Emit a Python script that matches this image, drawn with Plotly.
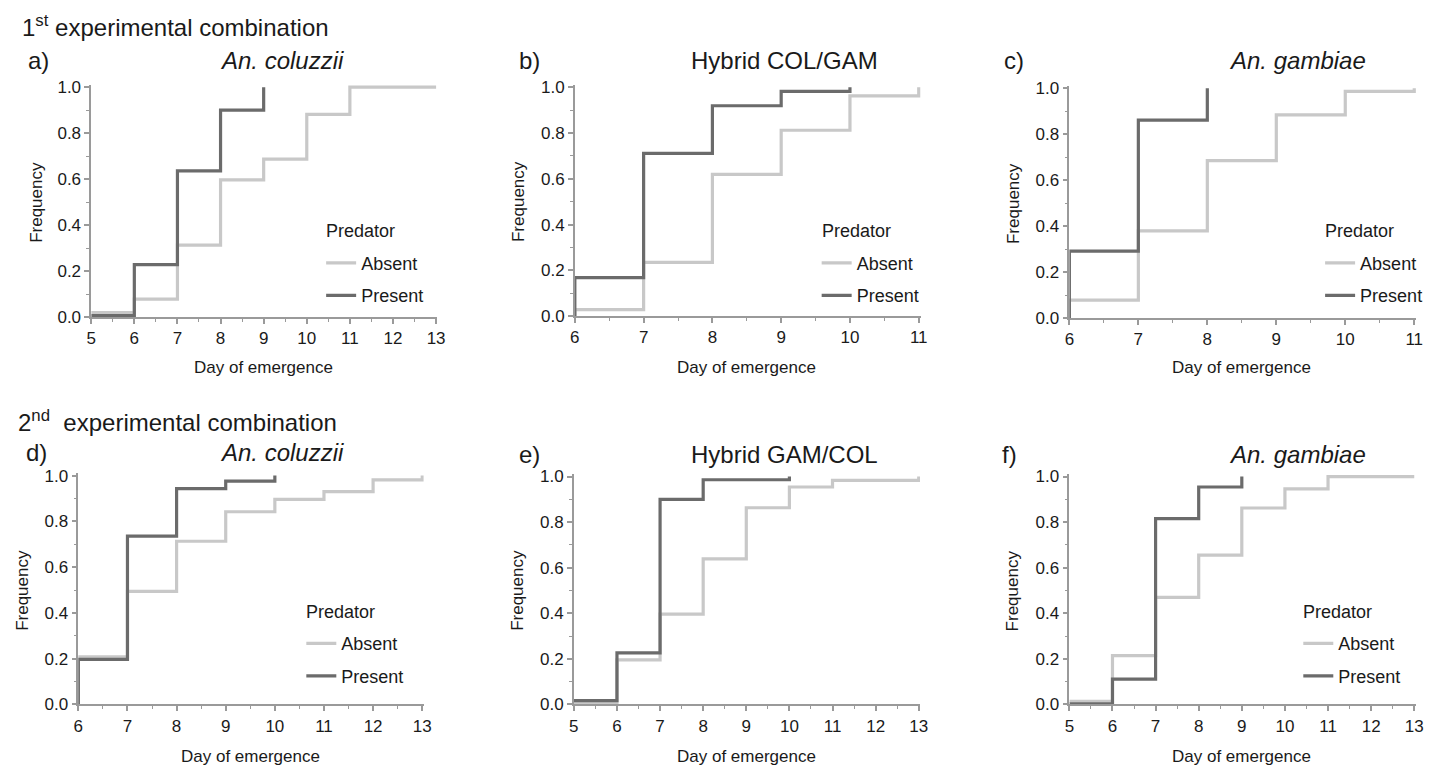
import plotly.graph_objects as go

# ---------------- data (cumulative frequency of emergence) ----------------
# Panel a) 1st combination, An. coluzzii
a_absent_days = [5, 6, 7, 8, 9, 10, 11, 13]
a_absent_freq = [0.02, 0.078, 0.313, 0.597, 0.687, 0.882, 1.0, 1.0]
a_present_days = [5, 6, 7, 8, 9]
a_present_freq = [0.007, 0.228, 0.636, 0.90, 1.0]

# Panel b) 1st combination, Hybrid COL/GAM
b_absent_days = [6, 6, 7, 8, 9, 10, 11]
b_absent_freq = [0.0, 0.028, 0.235, 0.619, 0.812, 0.962, 1.0]
b_present_days = [6, 6, 7, 8, 9, 10]
b_present_freq = [0.0, 0.168, 0.711, 0.919, 0.982, 1.0]

# Panel c) 1st combination, An. gambiae
c_absent_days = [6, 6, 7, 8, 9, 10, 11]
c_absent_freq = [0.0, 0.078, 0.379, 0.685, 0.884, 0.986, 1.0]
c_present_days = [6, 6, 7, 8]
c_present_freq = [0.0, 0.291, 0.861, 1.0]

# Panel d) 2nd combination, An. coluzzii
d_absent_days = [6, 6, 7, 8, 9, 10, 11, 12, 13]
d_absent_freq = [0.0, 0.208, 0.494, 0.713, 0.842, 0.896, 0.930, 0.981, 1.0]
d_present_days = [6, 6, 7, 8, 9, 10]
d_present_freq = [0.0, 0.197, 0.735, 0.943, 0.976, 1.0]

# Panel e) 2nd combination, Hybrid GAM/COL
e_absent_days = [5, 6, 7, 8, 9, 10, 11, 13]
e_absent_freq = [0.007, 0.196, 0.396, 0.639, 0.863, 0.954, 0.983, 1.0]
e_present_days = [5, 6, 7, 8, 10]
e_present_freq = [0.017, 0.226, 0.90, 0.986, 1.0]

# Panel f) 2nd combination, An. gambiae
f_absent_days = [5, 6, 7, 8, 9, 10, 11, 13]
f_absent_freq = [0.014, 0.214, 0.470, 0.655, 0.862, 0.946, 1.0, 1.0]
f_present_days = [5, 6, 7, 8, 9]
f_present_freq = [0.003, 0.111, 0.815, 0.954, 1.0]

series_names = ["Absent", "Present"]
panel_labels = ["a)", "b)", "c)", "d)", "e)", "f)"]
panel_titles = ["<i>An. coluzzii</i>", "Hybrid COL/GAM", "<i>An. gambiae</i>",
                "<i>An. coluzzii</i>", "Hybrid GAM/COL", "<i>An. gambiae</i>"]
row_titles = ["1<sup>st</sup> experimental combination",
              "2<sup>nd</sup>  experimental combination"]
x_title = "Day of emergence"
y_title = "Frequency"
legend_title = "Predator"

data = [
    (a_absent_days, a_absent_freq, a_present_days, a_present_freq),
    (b_absent_days, b_absent_freq, b_present_days, b_present_freq),
    (c_absent_days, c_absent_freq, c_present_days, c_present_freq),
    (d_absent_days, d_absent_freq, d_present_days, d_present_freq),
    (e_absent_days, e_absent_freq, e_present_days, e_present_freq),
    (f_absent_days, f_absent_freq, f_present_days, f_present_freq),
]

# ---------------- layout geometry (pixels) ----------------
W, H = 1450, 780
FONT = "Liberation Sans, Arial, Helvetica, sans-serif"
LIGHT = "#c8c8c8"
DARK = "#6b6b6b"
AXC = "#9a9a9a"
TXT = "#1a1a1a"

# (x_lo, x_hi, px_lo, px_hi, py_top(1.0), py_bottom(0.0), label_x, label_y, title_cx, ytitle_cx, legend(x,y) or None)
geom = [
    (5, 13, 87, 435, 82, 317, 22, 55, 280, 31, (323, 229)),
    (6, 11, 575, 922, 82, 316, 518, 55, 787, 518, (823, 229)),
    (6, 11, 1074, 1422, 83, 318, 1007, 55, 1304, 1017, (1331, 229)),
    (6, 13, 74, 421, 479, 713, 20, 455, 280, 17, (303, 618)),
    (5, 13, 574, 922, 480, 713, 518, 457, 787, 517, None),
    (5, 13, 1074, 1422, 480, 713, 1005, 457, 1304, 1017, (1309, 618)),
]

XPAD = 0.03
YPAD = 0.01

fig = go.Figure()
layout = dict(
    width=W, height=H,
    margin=dict(l=0, r=0, t=0, b=0),
    paper_bgcolor="white", plot_bgcolor="white",
    font=dict(family=FONT, color=TXT),
    showlegend=True,
)
annotations = []
legend_count = 0

for i, (g, d) in enumerate(zip(geom, data)):
    xlo, xhi, px0, px1, pyt, pyb, lx, ly, tcx, ycx, leg = g
    k = "" if i == 0 else str(i + 1)
    xs = (px1 - px0) / (xhi - xlo)
    ys = (pyb - pyt) / 1.0
    xdom = [px0 / W, (px1 + XPAD * xs) / W]
    ydom = [1 - pyb / H, 1 - (pyt - YPAD * ys) / H]

    common = dict(showline=True, linecolor=AXC, linewidth=1.5, ticks="outside",
                  ticklen=5, tickwidth=1.5, tickcolor=AXC, showgrid=False,
                  zeroline=False, tickfont=dict(size=17, color=TXT, family=FONT))
    layout["xaxis" + k] = dict(domain=xdom, range=[xlo, xhi + XPAD],
                               anchor="y" + k, dtick=1, tick0=0,
                               minor=dict(ticks="outside", ticklen=3, dtick=0.5,
                                          tickcolor=AXC, tickwidth=1),
                               **common)
    layout["yaxis" + k] = dict(domain=ydom, range=[0, 1 + YPAD],
                               anchor="x" + k, dtick=0.2, tick0=0, tickformat=".1f",
                               minor=dict(ticks="outside", ticklen=3, dtick=0.1,
                                          tickcolor=AXC, tickwidth=1),
                               **common)

    if leg is not None:
        legend_count += 1
        lname = "legend" if legend_count == 1 else "legend" + str(legend_count)
        layout[lname] = dict(
            x=(leg[0] - 4) / W, y=1 - (leg[1] + 14) / H, xanchor="left", yanchor="top",
            bgcolor="rgba(0,0,0,0)", borderwidth=0,
            font=dict(size=18, family=FONT, color=TXT),
            traceorder="grouped", tracegroupgap=6, itemwidth=30,
        )
        annotations.append(dict(text=legend_title, x=leg[0] / W, y=1 - leg[1] / H,
                                xref="paper", yref="paper", xanchor="left", yanchor="middle",
                                showarrow=False, borderpad=0,
                                font=dict(size=18, family=FONT, color=TXT)))
    else:
        lname = None

    for j, (dx, dy, col) in enumerate([(d[0], d[1], LIGHT), (d[2], d[3], DARK)]):
        tr = dict(x=dx, y=dy, mode="lines", name=series_names[j],
                  line=dict(shape="hv", color=col, width=3.2),
                  xaxis="x" + k, yaxis="y" + k, hoverinfo="x+y+name",
                  legendgroup=f"g{i}_{j}")
        if lname:
            tr["legend"] = lname
            tr["showlegend"] = True
        else:
            tr["showlegend"] = False
        fig.add_trace(go.Scatter(**tr))

    annotations.append(dict(text=panel_labels[i], x=lx / W, y=1 - ly / H, xref="paper", yref="paper",
                            xanchor="left", yanchor="middle", showarrow=False, borderpad=0,
                            font=dict(size=24, family=FONT, color=TXT)))
    annotations.append(dict(text=panel_titles[i], x=tcx / W, y=1 - ly / H, xref="paper", yref="paper",
                            xanchor="center", yanchor="middle", showarrow=False,
                            font=dict(size=24, family=FONT, color=TXT)))
    xt_y = 369 if i < 3 else 766
    annotations.append(dict(text=x_title, x=(px0 + px1) / 2 / W, y=1 - xt_y / H, xref="paper", yref="paper",
                            xanchor="center", yanchor="middle", showarrow=False,
                            font=dict(size=17, family=FONT, color=TXT)))
    annotations.append(dict(text=y_title, x=ycx / W, y=1 - (pyt + pyb) / 2 / H, xref="paper", yref="paper",
                            xanchor="center", yanchor="middle", showarrow=False, textangle=-90,
                            font=dict(size=17, family=FONT, color=TXT)))

annotations.append(dict(text=row_titles[0], x=16 / W, y=1 - 19 / H, xref="paper", yref="paper",
                        xanchor="left", yanchor="middle", showarrow=False, borderpad=0,
                        font=dict(size=24, family=FONT, color=TXT)))
annotations.append(dict(text=row_titles[1], x=12 / W, y=1 - 423 / H, xref="paper", yref="paper",
                        xanchor="left", yanchor="middle", showarrow=False, borderpad=0,
                        font=dict(size=24, family=FONT, color=TXT)))

layout["annotations"] = annotations
fig.update_layout(**layout)

post = """
var de=document.documentElement, b=document.body;
de.style.margin='0';de.style.padding='0';de.style.overflow='hidden';
b.style.margin='0';b.style.padding='0';b.style.overflow='hidden';
"""
fig.write_html("out.html", config={"displayModeBar": False}, post_script=post)
